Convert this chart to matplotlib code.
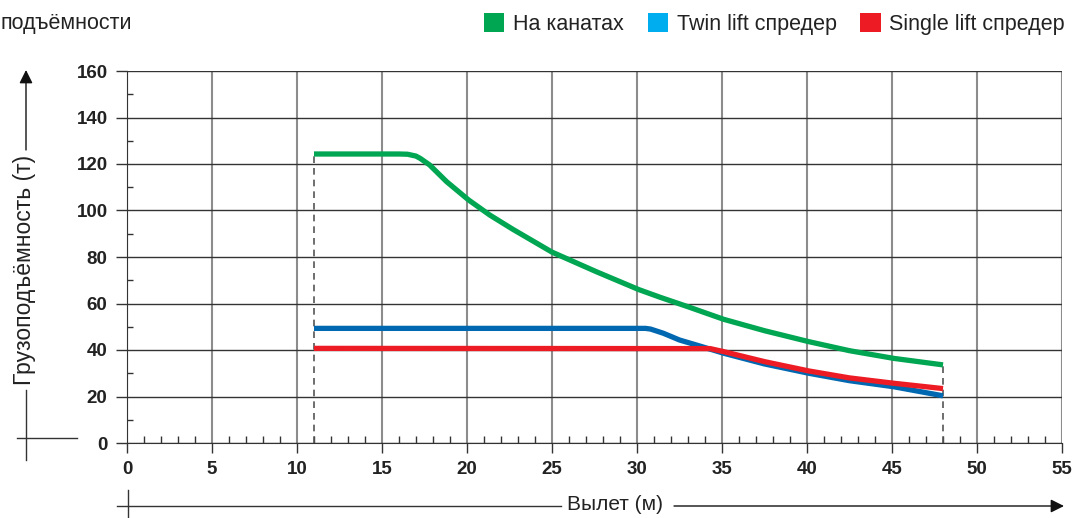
import matplotlib
matplotlib.use("Agg")
import matplotlib.pyplot as plt
from matplotlib.lines import Line2D
from matplotlib.patches import Patch
from matplotlib.ticker import MultipleLocator

plt.rcParams['font.family'] = ['Liberation Sans', 'DejaVu Sans']

# reach (m) / capacity (t)
rope_x = [11, 16, 16.5, 17, 17.25, 17.8, 18.8, 20.1, 21.35, 22.7, 25, 27.6, 30.1, 31.35, 33,
          35.1, 37.5, 40.1, 42.5, 45.1, 48]
rope_y = [124.3, 124.3, 124.2, 123.4, 122.4, 119.6, 112.4, 104.5, 98, 91.9, 82.1, 73.7, 66, 62.7, 58.6,
          53.2, 48.3, 43.6, 39.7, 36.4, 33.6]

twin_x = [11, 30.5, 30.8, 31.55, 32.5, 33.7, 35.1, 37.5, 40.1, 42.5, 45.1, 48]
twin_y = [49.3, 49.3, 49, 47.2, 44.3, 41.7, 38.6, 34, 30, 26.8, 24.2, 20.3]

single_x = [11, 34.3, 35.1, 37.5, 40.1, 42.5, 45.1, 48]
single_y = [40.7, 40.6, 39.3, 35, 31, 28, 25.7, 23.4]

series_names = ["На канатах", "Twin lift спредер", "Single lift спредер"]
line_colors = ["#00a651", "#0067b1", "#ed1c24"]
legend_colors = ["#00a651", "#00aeef", "#ed1c24"]

x_ticks = list(range(0, 56, 5))
y_ticks = list(range(0, 161, 20))

W, H = 1076, 518


def fx(p):
    return p / W


def fy(p):
    return 1 - p / H


fig = plt.figure(figsize=(W / 100, H / 100), dpi=100)
ax = fig.add_axes([fx(127), fy(443), (1062 - 127) / W, (443 - 71) / H])

ax.set_xlim(0, 55)
ax.set_ylim(0, 160)
ax.set_xticks(x_ticks)
ax.set_yticks(y_ticks)
ax.xaxis.set_minor_locator(MultipleLocator(1))
ax.yaxis.set_minor_locator(MultipleLocator(10))

for x in x_ticks:
    ax.axvline(x, color="#8c8c8c", lw=1.5, zorder=1)
for y in y_ticks:
    ax.axhline(y, color="#333333", lw=1.0, zorder=1)

for s in ["top", "right"]:
    ax.spines[s].set_visible(False)
ax.spines["left"].set_color("#333333")
ax.spines["bottom"].set_color("#333333")

tick_font = dict(weight='bold', size=13.5)
ax.tick_params(axis='y', which='major', direction='out', length=8, width=1, color="#333333", pad=6)
ax.tick_params(axis='y', which='minor', direction='in', length=4, width=1, color="#333333")
ax.tick_params(axis='x', which='major', direction='out', length=7, width=1, color="#333333", pad=6)
ax.tick_params(axis='x', which='minor', direction='in', length=5, width=1, color="#333333")
ax.set_xticklabels([str(v) for v in x_ticks], fontdict=tick_font, color="#222222")
ax.set_yticklabels([str(v) for v in y_ticks], fontdict=tick_font, color="#222222")

# dashed limits at min / max reach
ax.plot([rope_x[0], rope_x[0]], [0, rope_y[0]], ls=(0, (4, 3)), color="#555555", lw=1.2, zorder=2)
ax.plot([rope_x[-1], rope_x[-1]], [0, rope_y[-1]], ls=(0, (4, 3)), color="#555555", lw=1.2, zorder=2)

for xs, ys, c in [(rope_x, rope_y, line_colors[0]), (twin_x, twin_y, line_colors[1]),
                  (single_x, single_y, line_colors[2])]:
    ax.plot(xs, ys, color=c, lw=3.8, solid_joinstyle='round', solid_capstyle='butt', zorder=3)

# legend
handles = [Patch(facecolor=c, edgecolor='none') for c in legend_colors]
fig.legend(handles, series_names, loc='upper right', bbox_to_anchor=(fx(1080), fy(-2)), ncol=3,
           frameon=False, fontsize=15.5, handlelength=0.95, handleheight=1.0,
           handletextpad=0.4, columnspacing=1.1, borderpad=0.2, labelcolor="#222222")

# title, cut at the left edge in the original
fig.text(fx(1), fy(23), "подъёмности", ha='left', va='center', fontsize=15.5, color="#222222")

# y-axis label with arrow
fig.text(fx(25), fy(270), "Грузоподъёмность (т)", rotation=90, ha='center', va='center',
         fontsize=16.5, color="#222222")
fig.add_artist(Line2D([fx(26), fx(26)], [fy(390), fy(460)], color="#333333", lw=1))
fig.add_artist(Line2D([fx(17), fx(77)], [fy(438), fy(438)], color="#333333", lw=1))
ax.annotate("", xy=(fx(26), fy(70)), xycoords='figure fraction',
            xytext=(fx(26), fy(150)), textcoords='figure fraction',
            arrowprops=dict(arrowstyle='-|>', color="#111111", lw=1, mutation_scale=20,
                            shrinkA=0, shrinkB=0))

# x-axis label with arrow
fig.text(fx(615), fy(505), "Вылет (м)", ha='center', va='center', fontsize=15, color="#222222")
fig.add_artist(Line2D([fx(117), fx(561)], [fy(506), fy(506)], color="#333333", lw=1))
fig.add_artist(Line2D([fx(128), fx(128)], [fy(490), fy(518)], color="#333333", lw=1))
ax.annotate("", xy=(fx(1064), fy(506)), xycoords='figure fraction',
            xytext=(fx(674), fy(506)), textcoords='figure fraction',
            arrowprops=dict(arrowstyle='-|>', color="#111111", lw=1, mutation_scale=20,
                            shrinkA=0, shrinkB=0))

fig.savefig("out.png", dpi=100)
